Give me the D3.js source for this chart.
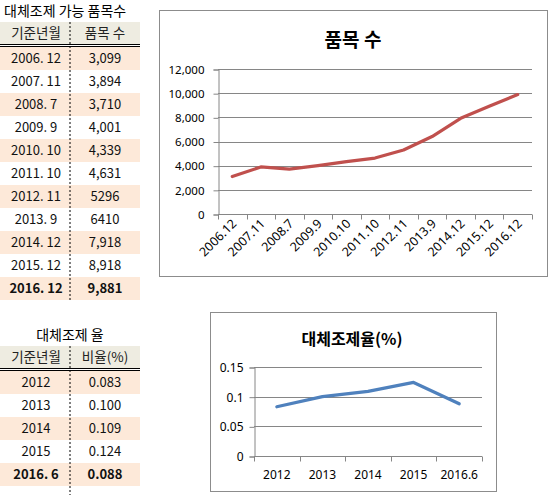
<!DOCTYPE html>
<html>
<head>
<meta charset="utf-8">
<script src="https://cdn.jsdelivr.net/npm/d3@7"></script>
<style>
  body { margin: 0; background: #fff; }
  svg { display: block; font-family: "Noto Sans CJK KR", "Noto Sans", sans-serif; }
</style>
</head>
<body>
<script>
// 품목 수 data
const periods = ["2006. 12", "2007. 11", "2008. 7", "2009. 9", "2010. 10", "2011. 10", "2012. 11", "2013. 9", "2014. 12", "2015. 12", "2016. 12"];
const periodLabels = ["2006.12", "2007.11", "2008.7", "2009.9", "2010.10", "2011.10", "2012.11", "2013.9", "2014.12", "2015.12", "2016.12"];
const itemCounts = [3099, 3894, 3710, 4001, 4339, 4631, 5296, 6410, 7918, 8918, 9881];
const itemCountText = ["3,099", "3,894", "3,710", "4,001", "4,339", "4,631", "5296", "6410", "7,918", "8,918", "9,881"];
const countTicks = [0, 2000, 4000, 6000, 8000, 10000, 12000];

// 대체조제 율 data
const years = ["2012", "2013", "2014", "2015", "2016. 6"];
const yearLabels = ["2012", "2013", "2014", "2015", "2016.6"];
const rates = [0.083, 0.100, 0.109, 0.124, 0.088];
const rateText = ["0.083", "0.100", "0.109", "0.124", "0.088"];
const rateTicks = [0, 0.05, 0.1, 0.15];

const svg = d3.select("body").append("svg")
    .attr("width", 549)
    .attr("height", 495);

const peach = "#fde9d9", headBg = "#eeece1";

// ---- table drawing helper
function drawTable(g, top, title, titleX, titleAnchor, head, col1, col2) {
    const rowH = 23, w = 140, mid = 70;
    g.append("text").attr("x", titleX).attr("y", top - 6)
        .attr("text-anchor", titleAnchor)
        .attr("font-size", 14).attr("fill", "#000").text(title);
    const headTop = top;
    g.append("rect").attr("x", 0).attr("y", headTop).attr("width", w).attr("height", 22).attr("fill", headBg);
    g.append("text").attr("x", 36).attr("y", headTop + 16).attr("text-anchor", "middle")
        .attr("font-size", 13.5).attr("fill", "#222").text(head[0]);
    g.append("text").attr("x", 105).attr("y", headTop + 16).attr("text-anchor", "middle")
        .attr("font-size", 13.5).attr("fill", "#222").text(head[1]);
    g.append("line").attr("x1", 0).attr("x2", w).attr("y1", headTop + 22.5).attr("y2", headTop + 22.5).attr("stroke", "#000");
    g.append("line").attr("x1", 0).attr("x2", w).attr("y1", headTop + 24.5).attr("y2", headTop + 24.5).attr("stroke", "#000");
    const rowTop = headTop + 25;
    const n = col1.length;
    col1.forEach((d, i) => {
        const y0 = rowTop + i * rowH;
        const last = i === n - 1;
        if (i % 2 === 0)
            g.append("rect").attr("x", 0).attr("y", y0).attr("width", w).attr("height", rowH).attr("fill", peach);
        g.append("text").attr("x", 36).attr("y", y0 + 16).attr("text-anchor", "middle")
            .attr("font-size", 13).attr("font-weight", last ? "bold" : "normal").attr("fill", "#111").text(d);
        g.append("text").attr("x", 105).attr("y", y0 + 16).attr("text-anchor", "middle")
            .attr("font-size", 13).attr("font-weight", last ? "bold" : "normal").attr("fill", "#111").text(col2[i]);
    });
    g.append("line").attr("x1", mid).attr("x2", mid)
        .attr("y1", headTop).attr("y2", rowTop + n * rowH + (n < 6 ? 9 : 0))
        .attr("stroke", "#000").attr("stroke-dasharray", "2,2");
}

drawTable(svg.append("g"), 22, "대체조제 가능 품목수", 4, "start", ["기준년월", "품목 수"], periods, itemCountText);
drawTable(svg.append("g"), 346, "대체조제 율", 70, "middle", ["기준년월", "비율(%)"], years, rateText);

// ---- line chart helper
function drawChart(opt) {
    const g = svg.append("g");
    g.append("rect").attr("x", opt.box[0] + 0.5).attr("y", opt.box[1] + 0.5)
        .attr("width", opt.box[2]).attr("height", opt.box[3])
        .attr("fill", "#fff").attr("stroke", "#8c8c8c");
    g.append("text").attr("x", opt.titleX).attr("y", opt.titleY).attr("text-anchor", "middle")
        .attr("font-size", opt.titleSize).attr("font-weight", "bold").attr("fill", "#000").text(opt.title);

    const x = d3.scaleBand().domain(opt.cats).range([opt.left, opt.right]);
    const y = d3.scaleLinear().domain([0, d3.max(opt.ticks)]).range([opt.bottom, opt.top]);

    // gridlines
    g.append("g").selectAll("line").data(opt.ticks.filter(t => t > 0)).enter().append("line")
        .attr("x1", opt.left).attr("x2", opt.right)
        .attr("y1", d => Math.round(y(d)) + 0.5).attr("y2", d => Math.round(y(d)) + 0.5)
        .attr("stroke", "#868686");

    // y axis
    const yAxis = g.append("g")
        .attr("transform", `translate(${opt.left + 0.5},0.5)`)
        .call(d3.axisLeft(y).tickValues(opt.ticks).tickSize(5).tickFormat(opt.fmt));
    yAxis.select(".domain").attr("stroke", "#868686");
    yAxis.selectAll(".tick line").attr("stroke", "#868686");
    yAxis.selectAll("text").attr("font-size", opt.fontSize).attr("fill", "#000")
        .attr("font-family", "\"Noto Sans\", sans-serif").attr("x", -opt.labelGap);

    // x axis with ticks at category boundaries
    const xg = g.append("g").attr("transform", `translate(0,${Math.round(opt.bottom) + 0.5})`);
    xg.append("line").attr("x1", opt.left).attr("x2", opt.right).attr("stroke", "#868686");
    const bounds = opt.cats.map(c => x(c)).concat([opt.right]);
    xg.selectAll("line.tk").data(bounds).enter().append("line").attr("class", "tk")
        .attr("x1", d => Math.round(d) + 0.5).attr("x2", d => Math.round(d) + 0.5)
        .attr("y1", 0).attr("y2", 5).attr("stroke", "#868686");
    opt.cats.forEach((c, i) => {
        const cx = x(c) + x.bandwidth() / 2;
        const t = xg.append("text").attr("font-size", opt.xFontSize).attr("fill", "#000")
            .attr("font-family", "\"Noto Sans\", sans-serif").text(opt.labels[i]);
        if (opt.rotate) {
            t.attr("text-anchor", "end")
                .attr("transform", `translate(${cx + 5},${10}) rotate(-45)`);
        } else {
            t.attr("text-anchor", "middle").attr("x", cx).attr("y", 22);
        }
    });

    const line = d3.line().x((d, i) => x(opt.cats[i]) + x.bandwidth() / 2).y(d => y(d));
    g.append("path").datum(opt.values).attr("d", line)
        .attr("fill", "none").attr("stroke", opt.color).attr("stroke-width", 3.2)
        .attr("stroke-linejoin", "round").attr("stroke-linecap", "round");
}

drawChart({
    box: [159, 10, 388, 266],
    title: "품목 수", titleX: 353, titleY: 47, titleSize: 19,
    cats: periods, labels: periodLabels, values: itemCounts, ticks: countTicks,
    left: 218, right: 532, top: 69, bottom: 214,
    fmt: d3.format(","), fontSize: 11.5, xFontSize: 12.5, labelGap: 14, rotate: true, color: "#c0504d"
});

drawChart({
    box: [210, 312, 286, 179],
    title: "대체조제율(%)", titleX: 352, titleY: 345, titleSize: 16,
    cats: years, labels: yearLabels, values: rates, ticks: rateTicks,
    left: 254, right: 482, top: 367, bottom: 456,
    fmt: d => String(d), fontSize: 12, xFontSize: 12, labelGap: 11, rotate: false, color: "#4f81bd"
});
</script>
</body>
</html>
